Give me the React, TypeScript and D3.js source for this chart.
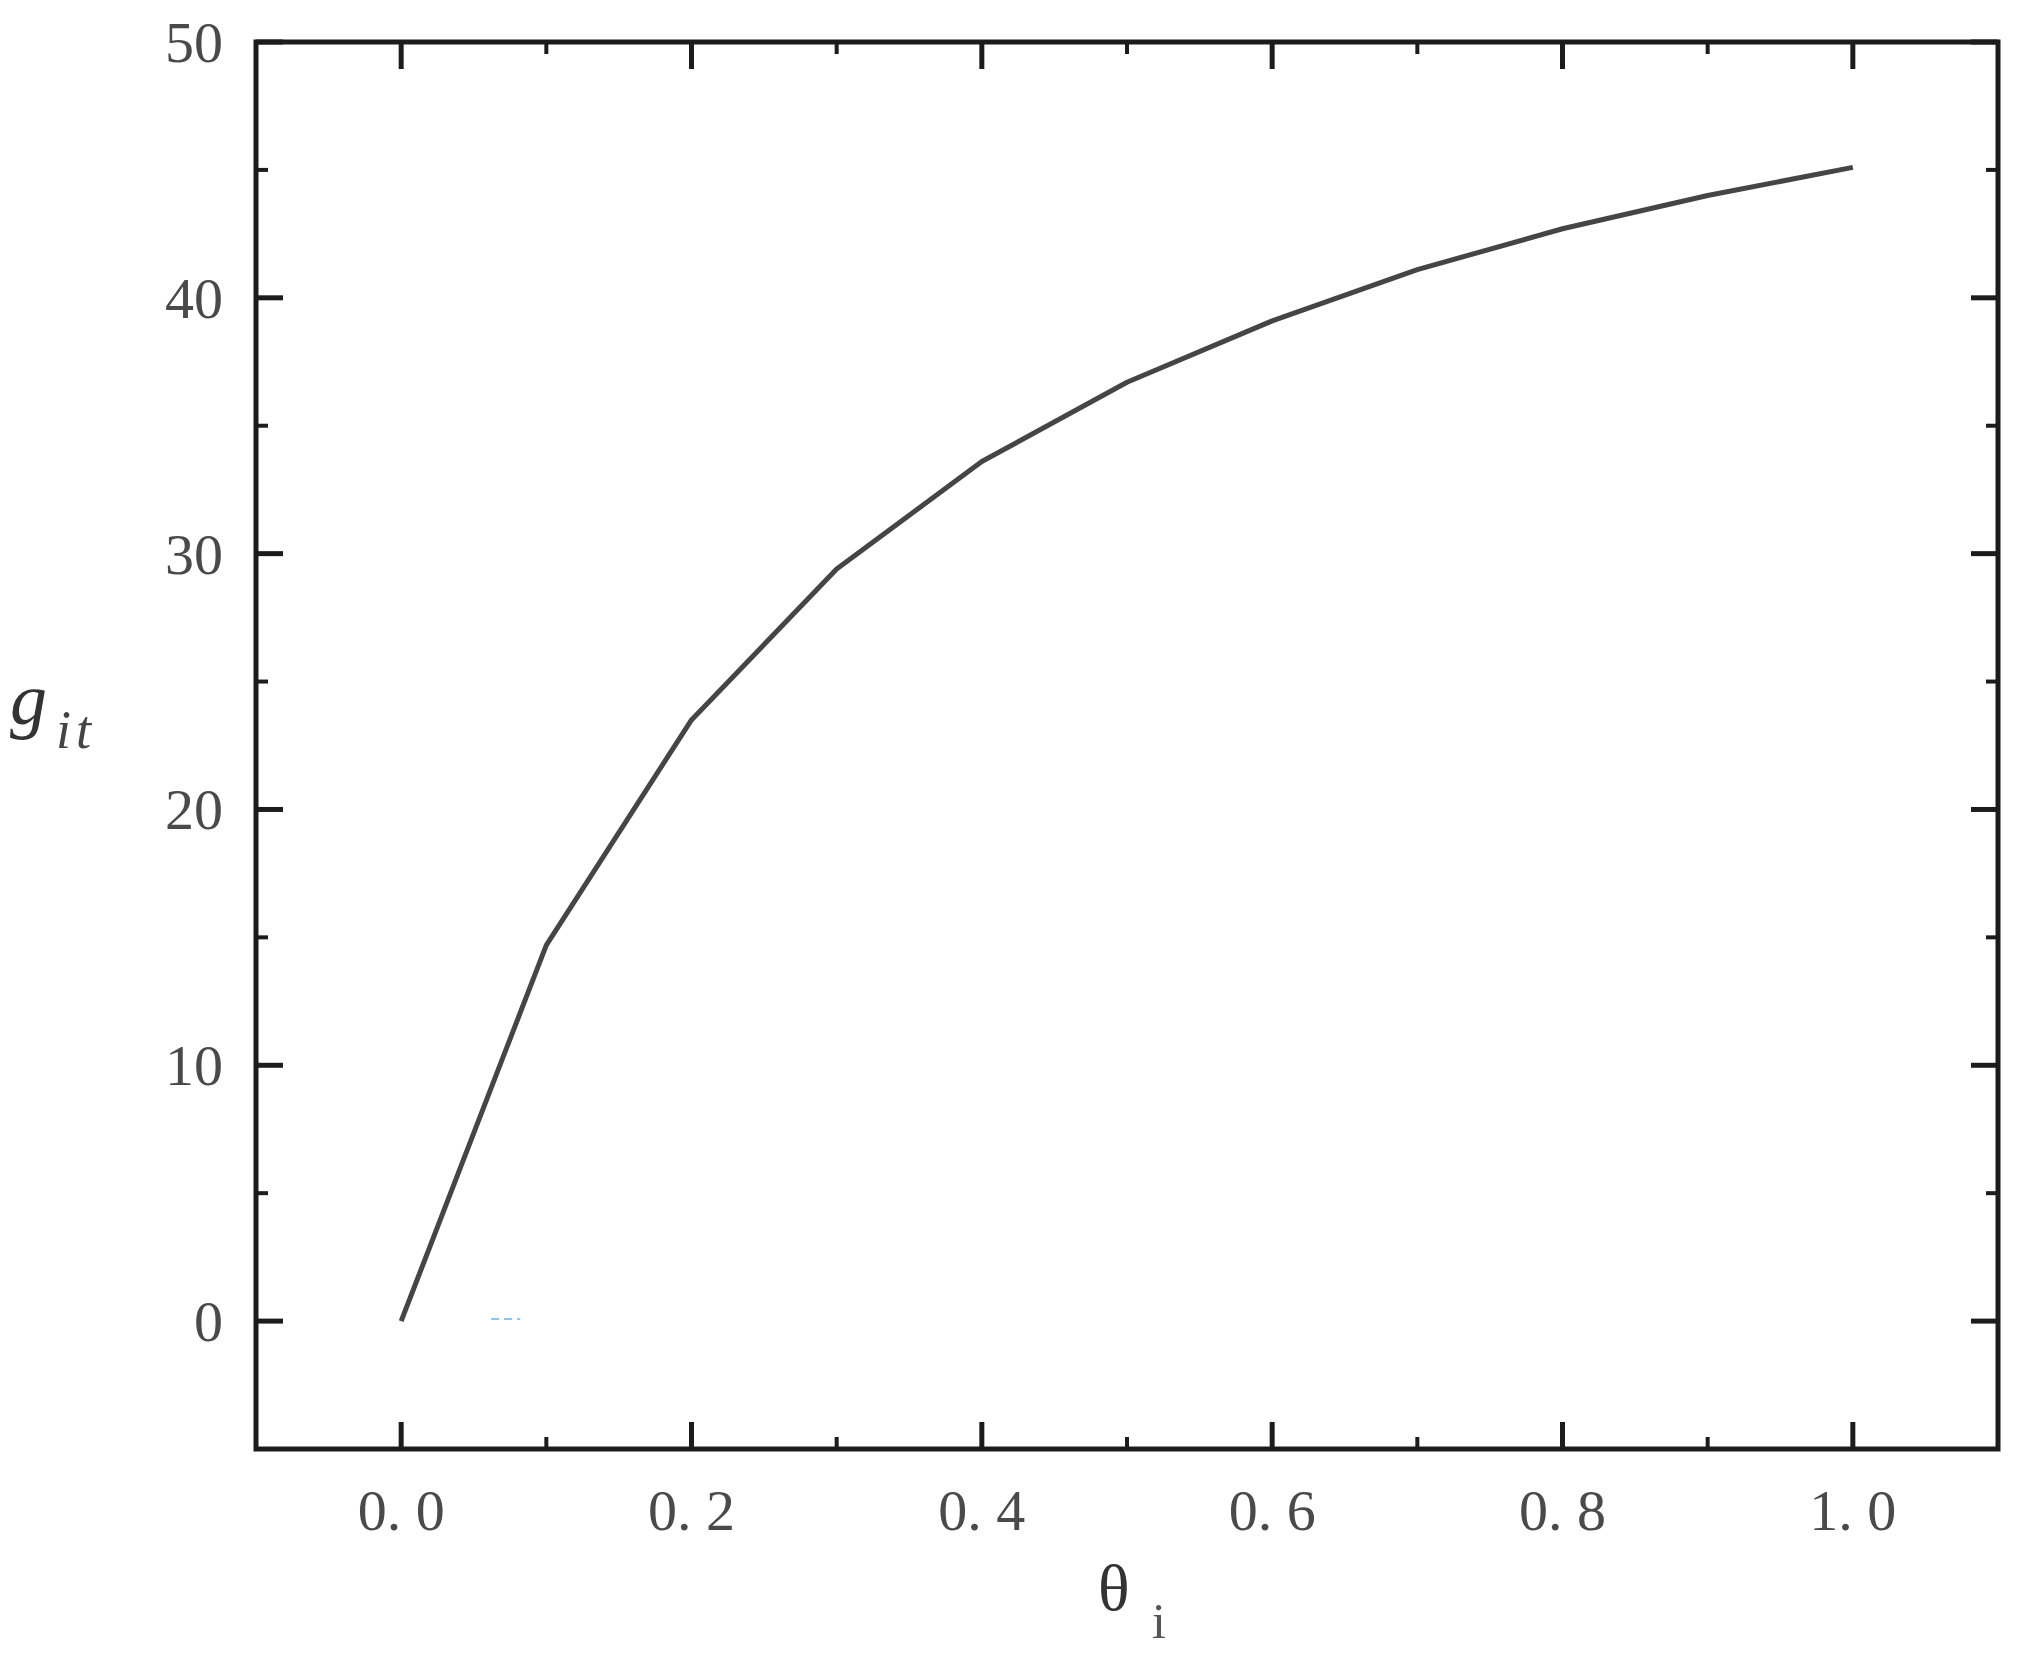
import React, { useEffect, useRef } from "react";
import * as d3 from "d3";

// curve values
const thetaValues = [0, 0.1, 0.2, 0.3, 0.4, 0.5, 0.6, 0.7, 0.8, 0.9, 1.0];
const gitValues = [0, 14.7, 23.5, 29.4, 33.6, 36.7, 39.1, 41.1, 42.7, 44.0, 45.1];

const xMajorTicks = [0, 0.2, 0.4, 0.6, 0.8, 1.0];
const xMinorTicks = [0.1, 0.3, 0.5, 0.7, 0.9];
const xTickLabels = ["0. 0", "0. 2", "0. 4", "0. 6", "0. 8", "1. 0"];
const yMajorTicks = [0, 10, 20, 30, 40, 50];
const yMinorTicks = [5, 15, 25, 35, 45];

// small stray blue mark near the origin
const strayMark = [0.062, 0.082];

const App = () => {
  const svgRef = useRef<SVGSVGElement>(null);

  useEffect(() => {
    const svg = d3.select(svgRef.current);
    svg.selectAll("*").remove();

    const width = 2033;
    const height = 1656;
    const margin = { top: 42, right: 35, bottom: 207, left: 256 };

    svg.attr("width", width).attr("height", height);

    const x = d3
      .scaleLinear()
      .domain([-0.1, 1.1])
      .range([margin.left, width - margin.right]);
    const y = d3
      .scaleLinear()
      .domain([-5, 50])
      .range([height - margin.bottom, margin.top]);

    const frameColor = "#1c1c1c";
    const x0 = x.range()[0];
    const x1 = x.range()[1];
    const y0 = y.range()[0];
    const y1 = y.range()[1];

    // ticks (inward, on all four sides)
    const major = 27;
    const minor = 12;
    const ticks = svg.append("g").attr("stroke", frameColor);

    xMajorTicks.forEach((v) => {
      ticks.append("line").attr("x1", x(v)).attr("x2", x(v)).attr("y1", y0).attr("y2", y0 - major).attr("stroke-width", 5);
      ticks.append("line").attr("x1", x(v)).attr("x2", x(v)).attr("y1", y1).attr("y2", y1 + major).attr("stroke-width", 5);
    });
    xMinorTicks.forEach((v) => {
      ticks.append("line").attr("x1", x(v)).attr("x2", x(v)).attr("y1", y0).attr("y2", y0 - minor).attr("stroke-width", 4);
      ticks.append("line").attr("x1", x(v)).attr("x2", x(v)).attr("y1", y1).attr("y2", y1 + minor).attr("stroke-width", 4);
    });
    yMajorTicks.forEach((v) => {
      ticks.append("line").attr("y1", y(v)).attr("y2", y(v)).attr("x1", x0).attr("x2", x0 + major).attr("stroke-width", 5);
      ticks.append("line").attr("y1", y(v)).attr("y2", y(v)).attr("x1", x1).attr("x2", x1 - major).attr("stroke-width", 5);
    });
    yMinorTicks.forEach((v) => {
      ticks.append("line").attr("y1", y(v)).attr("y2", y(v)).attr("x1", x0).attr("x2", x0 + minor).attr("stroke-width", 4);
      ticks.append("line").attr("y1", y(v)).attr("y2", y(v)).attr("x1", x1).attr("x2", x1 - minor).attr("stroke-width", 4);
    });

    // frame
    svg
      .append("rect")
      .attr("x", x0)
      .attr("y", y1)
      .attr("width", x1 - x0)
      .attr("height", y0 - y1)
      .attr("fill", "none")
      .attr("stroke", frameColor)
      .attr("stroke-width", 5);

    // stray mark
    svg
      .append("line")
      .attr("x1", x(strayMark[0]))
      .attr("x2", x(strayMark[1]))
      .attr("y1", y(0) - 2)
      .attr("y2", y(0) - 2)
      .attr("stroke", "#8cc4ee")
      .attr("stroke-width", 2)
      .attr("stroke-dasharray", "8,5");

    // curve
    const line = d3
      .line<number>()
      .x((d, i) => x(thetaValues[i]))
      .y((d) => y(d));

    svg
      .append("path")
      .datum(gitValues)
      .attr("d", line)
      .attr("fill", "none")
      .attr("stroke", "#454545")
      .attr("stroke-width", 5)
      .attr("stroke-linejoin", "round");

    // tick labels
    const font = "'Liberation Serif', 'DejaVu Serif', serif";
    const labelColor = "#4a4a4a";

    svg
      .append("g")
      .selectAll("text")
      .data(xMajorTicks)
      .enter()
      .append("text")
      .attr("x", (d) => x(d))
      .attr("y", 1530)
      .attr("text-anchor", "middle")
      .style("font-family", font)
      .style("font-size", "58px")
      .style("fill", labelColor)
      .text((d, i) => xTickLabels[i]);

    svg
      .append("g")
      .selectAll("text")
      .data(yMajorTicks)
      .enter()
      .append("text")
      .attr("x", 223)
      .attr("y", (d) => y(d) + 20)
      .attr("text-anchor", "end")
      .style("font-family", font)
      .style("font-size", "58px")
      .style("fill", labelColor)
      .text((d) => d);

    // x axis title: θ i
    svg
      .append("text")
      .attr("x", 1098)
      .attr("y", 1610)
      .style("font-family", font)
      .style("font-size", "66px")
      .style("fill", "#333")
      .text("θ");
    svg
      .append("text")
      .attr("x", 1152)
      .attr("y", 1638)
      .style("font-family", font)
      .style("font-size", "50px")
      .style("fill", "#555")
      .text("i");

    // y axis title: g_it
    svg
      .append("text")
      .attr("x", 10)
      .attr("y", 724)
      .style("font-family", font)
      .style("font-style", "italic")
      .style("font-size", "74px")
      .style("fill", "#333")
      .text("g");
    svg
      .append("text")
      .attr("x", 56)
      .attr("y", 748)
      .style("font-family", font)
      .style("font-style", "italic")
      .style("font-size", "54px")
      .style("letter-spacing", "5px")
      .style("fill", "#444")
      .text("it");
  }, []);

  return (
    <svg
      ref={svgRef}
      style={{ position: "absolute", left: 0, top: 0, background: "#fff" }}
    ></svg>
  );
};

export default App;
